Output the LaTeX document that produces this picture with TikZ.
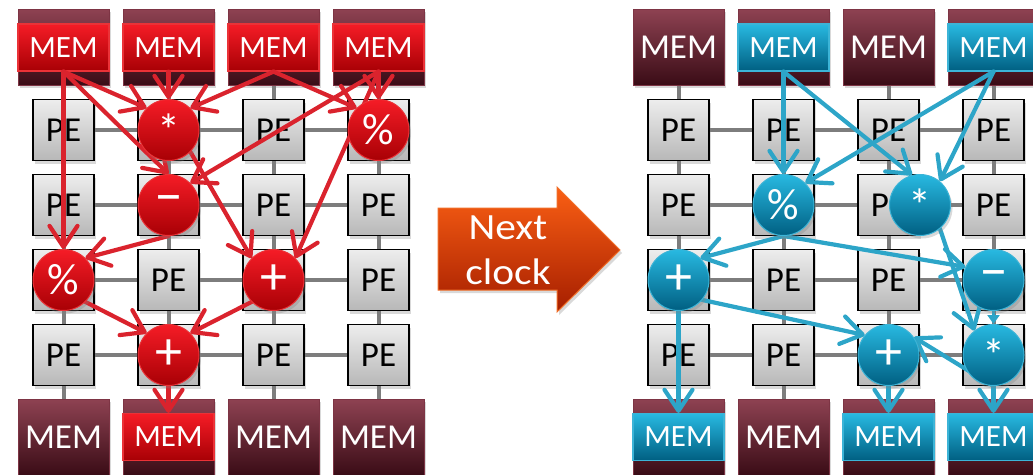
\documentclass[tikz,border=0pt]{standalone}
\usepackage{fontspec}
\setmainfont{Carlito}
\newfontfamily\nextfont[FakeStretch=1.12]{Carlito}
\usetikzlibrary{arrows.meta,shadows}
\definecolor{memtop}{RGB}{142,66,82}
\definecolor{membot}{RGB}{58,12,22}
\definecolor{memedge}{RGB}{125,52,68}
\definecolor{redtop}{RGB}{245,28,38}
\definecolor{redbot}{RGB}{168,0,5}
\definecolor{rededge}{RGB}{235,50,55}
\definecolor{bluetop}{RGB}{40,185,225}
\definecolor{bluebot}{RGB}{0,95,130}
\definecolor{blueedge}{RGB}{60,180,215}
\definecolor{redline}{RGB}{218,35,45}
\definecolor{blueline}{RGB}{45,165,200}
\definecolor{gridgray}{RGB}{125,125,125}
\definecolor{orangetop}{RGB}{250,95,20}
\definecolor{orangebot}{RGB}{165,30,0}
\definecolor{orangeedge}{RGB}{240,110,40}
\pgfdeclarelayer{bg}
\pgfdeclarelayer{arr}
\pgfdeclarelayer{fg}
\pgfsetlayers{bg,main,arr,fg}
\tikzset{
  shad/.style={drop shadow={opacity=0.3,shadow xshift=2pt,shadow yshift=-3pt}},
  mem/.style={shad,draw=memedge,line width=0.8pt,top color=memtop,bottom color=membot,
    minimum width=91pt,minimum height=76pt,inner sep=0pt,text=white,font=\fontsize{35}{40}\selectfont},
  band/.style={line width=1.2pt,minimum width=91pt,minimum height=47pt,inner sep=0pt,
    text=white,font=\fontsize{31}{34}\selectfont},
  redband/.style={band,draw=rededge,top color=redtop,bottom color=redbot},
  blueband/.style={band,draw=blueedge,top color=bluetop,bottom color=bluebot},
  pe/.style={shad,draw=black,line width=1.2pt,top color=white!93!black,bottom color=white!72!black,
    minimum size=61pt,inner sep=0pt,font=\fontsize{35}{40}\selectfont},
  op/.style={shad,circle,minimum size=61pt,inner sep=0pt,line width=1pt,text=white},
  rop/.style={op,draw=rededge,top color=redtop,bottom color=redbot},
  bop/.style={op,draw=blueedge,top color=bluetop,bottom color=bluebot},
  fstar/.style={font=\fontsize{46}{50}\selectfont},
  fpct/.style={font=\fontsize{44}{48}\selectfont},
  fplus/.style={font=\fontsize{54}{56}\selectfont},
  fminus/.style={font=\fontsize{58}{60}\selectfont},
  gridline/.style={draw=gridgray,line width=4pt},
  conn/.style={line width=4.2pt,line cap=round,-{Straight Barb[length=21pt,width=28pt,round]}},
  rarr/.style={conn,draw=redline},
  barr/.style={conn,draw=blueline},
  tinyarr/.style={line width=3pt,draw=blueline,-{Triangle[length=9pt,width=12pt]}},
}
\begin{document}
\begin{tikzpicture}[x=1pt,y=-1pt]
\useasboundingbox (0,0) rectangle (1033,474);
\clip (0,0) rectangle (1033,474);
% ---------- LEFT GRID ----------
\node[mem] (mtL1) at (63.5,47) {};
\node[mem] (mtL2) at (168.5,47) {};
\node[mem] (mtL3) at (273.5,47) {};
\node[mem] (mtL4) at (378.5,47) {};
\node[redband] (btL1) at (63.5,47.5) {MEM};
\node[redband] (btL2) at (168.5,47.5) {MEM};
\node[redband] (btL3) at (273.5,47.5) {MEM};
\node[redband] (btL4) at (378.5,47.5) {MEM};
\node[mem] (mbL1) at (63.5,437) {MEM};
\node[mem] (mbL2) at (168.5,437) {};
\node[mem] (mbL3) at (273.5,437) {MEM};
\node[mem] (mbL4) at (378.5,437) {MEM};
\node[redband] (bbL2) at (168.5,437) {MEM};
% ---------- RIGHT GRID ----------
\node[mem] (mtR1) at (678.5,47) {MEM};
\node[mem] (mtR2) at (783.5,47) {};
\node[mem] (mtR3) at (888.5,47) {MEM};
\node[mem] (mtR4) at (993.5,47) {};
\node[blueband] (btR2) at (783.5,47.5) {MEM};
\node[blueband] (btR4) at (993.5,47.5) {MEM};
\node[mem] (mbR1) at (678.5,437) {};
\node[mem] (mbR2) at (783.5,437) {MEM};
\node[mem] (mbR3) at (888.5,437) {};
\node[mem] (mbR4) at (993.5,437) {};
\node[blueband] (bbR1) at (678.5,437) {MEM};
\node[blueband] (bbR3) at (888.5,437) {MEM};
\node[blueband] (bbR4) at (993.5,437) {MEM};
% PE boxes (label hidden where an operation circle covers the cell)
\foreach \j/\i/\t in {1/1/PE,1/2/,1/3/PE,1/4/,
                      2/1/PE,2/2/,2/3/PE,2/4/PE,
                      3/1/,3/2/PE,3/3/,3/4/PE,
                      4/1/PE,4/2/,4/3/PE,4/4/PE}{
  \node[pe] (peL\j\i) at ({105*\i-41.5},{75*\j+55}) {\t};
}
\foreach \j/\i/\t in {1/1/PE,1/2/PE,1/3/PE,1/4/PE,
                      2/1/PE,2/2/,2/3/PE,2/4/PE,
                      3/1/,3/2/PE,3/3/PE,3/4/,
                      4/1/PE,4/2/PE,4/3/,4/4/}{
  \node[pe] (peR\j\i) at ({105*\i+573.5},{75*\j+55}) {\t};
}
% grid wires
\begin{pgfonlayer}{bg}
\foreach \s in {L,R}{
  \foreach \i in {1,2,3,4}{
    \draw[gridline] (mt\s\i.center) -- (mb\s\i.center);
    \draw[gridline] (pe\s\i1.center) -- (pe\s\i4.center);
  }
}
\end{pgfonlayer}
% operation circles
\begin{pgfonlayer}{fg}
\node[rop,fstar]  (cL1) at (168.5,130) {*};
\node[rop,fpct]   (cL2) at (378.5,130) {\%};
\node[rop,fminus] (cL3) at (168.5,205) {–};
\node[rop,fpct]   (cL4) at (63.5,280) {\%};
\node[rop,fplus]  (cL5) at (273.5,280) {+};
\node[rop,fplus]  (cL6) at (168.5,355) {+};
\node[bop,fpct]   (cR1) at (783.5,205) {\%};
\node[bop,fstar]  (cR2) at (920,205) {*};
\node[bop,fplus]  (cR3) at (678.5,280) {+};
\node[bop,fminus] (cR4) at (993.5,280) {–};
\node[bop,fplus]  (cR5) at (888.5,355) {+};
\node[bop,fstar]  (cR6) at (993.5,355) {*};
\end{pgfonlayer}
% data-flow arrows
\begin{pgfonlayer}{arr}
\draw[rarr] (btL1.south) -- (cL4.north);
\draw[rarr] (btL1.south) -- (cL1.135);
\draw[rarr] (btL1.south) -- (cL3.north);
\draw[rarr] (btL2.south) -- (cL1.north);
\draw[rarr] (btL3.south) -- (cL1.45);
\draw[rarr] (btL3.south) -- (cL2.135);
\draw[rarr] (btL4.south) -- (cL3.45);
\draw[rarr] (btL4.south) -- (cL2.north);
\draw[rarr] (btL4.south) -- (cL5.45);
\draw[rarr] (cL1.-45) -- (cL5.135);
\draw[rarr] (cL3.south) -- (cL4.45);
\draw[rarr] (cL4.-45) -- (cL6.135);
\draw[rarr] (cL5.-135) -- (cL6.45);
\draw[rarr] (cL6.south) -- (bbL2.north);
\draw[barr] (btR2.south) -- (cR1.north);
\draw[barr] (btR2.south) -- (cR2.105);
\draw[barr] (btR4.south) -- (cR1.45);
\draw[barr] (btR4.south) -- (cR2.50);
\draw[barr] (cR1.south) -- (cR3.45);
\draw[barr] (cR1.south) -- (cR4.155);
\draw[barr] (cR2.-50) -- (cR6.128);
\draw[tinyarr] (cR4.south) -- (cR6.north);
\draw[barr] (cR3.-40) -- (cR5.140);
\draw[barr] (cR3.south) -- (bbR1.north);
\draw[barr] (cR6.south) -- (cR5.35);
\draw[barr] (cR5.south) -- (bbR3.north);
\draw[barr] (cR6.south) -- (bbR4.north);
\end{pgfonlayer}
% Next clock arrow
\path[shad,draw=orangeedge,line width=1pt,top color=orangetop,bottom color=orangebot]
  (438,208) -- (557,208) -- (557,187) -- (620,250) -- (557,312) -- (557,290) -- (438,290) -- cycle;
\node[text=white,align=center,font=\nextfont\fontsize{37}{45}\selectfont] (nc) at (508,250) {Next\\clock};
\end{tikzpicture}
\end{document}
